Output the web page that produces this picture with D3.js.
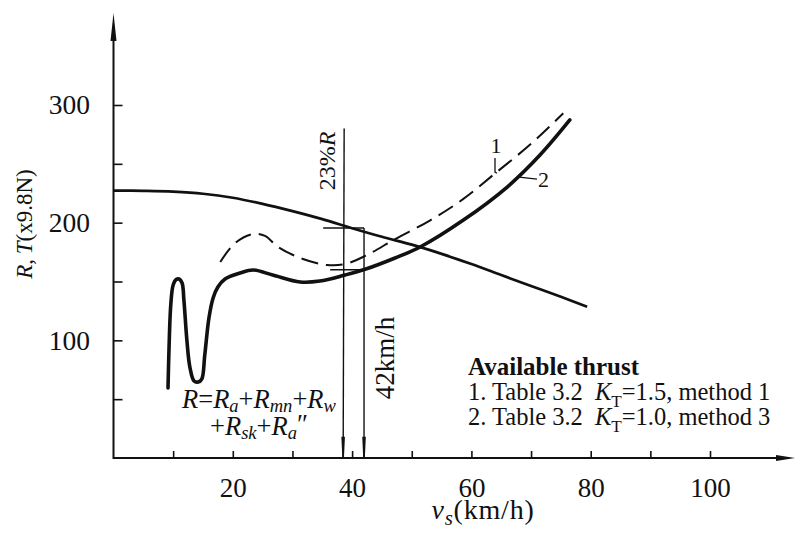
<!DOCTYPE html>
<html>
<head>
<meta charset="utf-8">
<script src="https://cdn.jsdelivr.net/npm/d3@7"></script>
<style>
  html, body { margin: 0; padding: 0; background: #fff; }
  svg { display: block; font-family: "Liberation Serif", "Times New Roman", serif; }
</style>
</head>
<body>
<svg id="chart" width="796" height="538"></svg>
<script>
// Available thrust T (x9.8 N) against speed (km/h)
const thrustSpeed = [0, 5, 10, 15, 20, 25, 30, 35, 40, 45, 50, 55, 60, 65, 70, 75, 79.4];
const thrustValue = [227.3, 227, 226.3, 224.6, 221.2, 216, 209.8, 203, 195.3, 188, 181.3, 173.5, 164.8, 155.5, 146.2, 137, 128.5];

// Resistance curve 1 (dashed)
const r1Speed = [17.9, 20.4, 23.4, 25.4, 27.6, 31.3, 35.8, 38.8, 42.3, 47.2, 53.1, 58.6, 64, 70, 75.4];
const r1Value = [166.6, 182.7, 190.4, 188.7, 179.3, 170, 164, 164.8, 172, 186, 202, 220, 242, 267, 293];

// Resistance curve 2 (solid, heavy)
const r2Speed = [9.14, 9.3, 9.6, 10.0, 10.5, 11.0, 11.5, 11.8, 12.3, 12.8, 13.5, 14.2, 14.8, 15.3, 16.0, 16.7, 17.5, 18.7, 21.2, 23.4, 26.7, 31.3, 34.6, 38.8, 42.3, 47.2, 51.4, 58.6, 66.0, 71.5, 76.5];
const r2Value = [59.5, 91.8, 130, 147, 151.7, 152.1, 148.7, 134.3, 100.3, 77.3, 65.4, 64.6, 67.1, 87.5, 119, 136, 145.3, 152.1, 157.2, 159.8, 155.5, 149.6, 150.4, 155.5, 160.6, 170, 179.3, 202, 230.3, 257.5, 287.3];

// Axis ticks
const xTicks = [10, 20, 30, 40, 50, 60, 70, 80, 90, 100];
const xTickLabels = [20, 40, 60, 80, 100];
const yTicks = [50, 100, 150, 200, 250, 300];
const yTickLabels = [100, 200, 300];

// Marked speeds: 23%R margin at 38.5 km/h and the 42 km/h speed
const markSpeeds = [38.5, 42];
const marginTop = 195.5;     // thrust level at the 23%R mark
const marginBottom = 160;    // resistance level at the 23%R mark

const svg = d3.select("#chart");
const W = 796, H = 538;
const INK = "#111";

const x = d3.scaleLinear().domain([0, 100]).range([113.5, 710]);
const y = d3.scaleLinear().domain([0, 300]).range([458, 105]);

svg.append("rect").attr("width", W).attr("height", H).attr("fill", "#fff");

// ---- axes ----
const yAxis = d3.axisLeft(y)
  .tickValues(yTicks)
  .tickSize(-9)
  .tickPadding(23.5)
  .tickFormat(d => yTickLabels.includes(d) ? d : "");
const gy = svg.append("g").attr("transform", `translate(${x(0)},0)`).call(yAxis);
gy.select(".domain").remove();
gy.selectAll(".tick line").attr("stroke", INK).attr("stroke-width", 1.6);
gy.selectAll(".tick text").attr("fill", INK).attr("font-size", 27.5)
  .attr("font-family", "Liberation Serif, serif");

const xAxis = d3.axisBottom(x)
  .tickValues(xTicks)
  .tickSize(-7)
  .tickPadding(20)
  .tickFormat(d => xTickLabels.includes(d) ? d : "");
const gx = svg.append("g").attr("transform", `translate(0,${y(0)})`).call(xAxis);
gx.select(".domain").remove();
gx.selectAll(".tick line").attr("stroke", INK).attr("stroke-width", 1.6);
gx.selectAll(".tick text").attr("fill", INK).attr("font-size", 27)
  .attr("font-family", "Liberation Serif, serif");

// axis lines with arrowheads
const x0 = x(0), y0 = y(0);
svg.append("line").attr("x1", x0).attr("x2", x0).attr("y1", y0 + 1).attr("y2", 30)
  .attr("stroke", INK).attr("stroke-width", 2);
svg.append("path").attr("d", `M${x0},13 L${x0 - 3},41 L${x0 + 3},41 Z`).attr("fill", INK);
svg.append("line").attr("x1", x0).attr("x2", 785).attr("y1", y0).attr("y2", y0)
  .attr("stroke", INK).attr("stroke-width", 2);
svg.append("path").attr("d", `M795,${y0} L776,${y0 - 3} L776,${y0 + 3} Z`).attr("fill", INK);

// ---- curves ----
const line = d3.line().x(d => x(d[0])).y(d => y(d[1])).curve(d3.curveCatmullRom.alpha(0.5));

svg.append("path").datum(d3.zip(thrustSpeed, thrustValue))
  .attr("d", line).attr("fill", "none").attr("stroke", INK).attr("stroke-width", 2.7);

svg.append("path").datum(d3.zip(r1Speed, r1Value))
  .attr("d", line).attr("fill", "none").attr("stroke", INK).attr("stroke-width", 2)
  .attr("stroke-dasharray", "17,8");

svg.append("path").datum(d3.zip(r2Speed, r2Value))
  .attr("d", line).attr("fill", "none").attr("stroke", INK).attr("stroke-width", 3.6)
  .attr("stroke-linecap", "round").attr("stroke-linejoin", "round");

// ---- speed marks ----
const ann = svg.append("g").attr("stroke", INK).attr("fill", "none");
// 23%R line
ann.append("line").attr("x1", x(markSpeeds[0]) + 1).attr("x2", x(markSpeeds[0]))
  .attr("y1", y(280)).attr("y2", y0).attr("stroke-width", 1.4);
// 42 km/h line
ann.append("line").attr("x1", x(markSpeeds[1])).attr("x2", x(markSpeeds[1]))
  .attr("y1", y(marginTop)).attr("y2", y0).attr("stroke-width", 1.4);
// horizontal marks
ann.append("line").attr("x1", x(markSpeeds[0]) - 20).attr("x2", x(markSpeeds[1]))
  .attr("y1", y(marginTop)).attr("y2", y(marginTop)).attr("stroke-width", 1.4);
ann.append("line").attr("x1", x(markSpeeds[0]) - 13).attr("x2", x(markSpeeds[1]))
  .attr("y1", y(marginBottom)).attr("y2", y(marginBottom)).attr("stroke-width", 1.4);
// arrow ends at the axis
markSpeeds.forEach(s => {
  svg.append("path")
    .attr("d", `M${x(s) - 1.8},${y(18)} L${x(s) + 1.8},${y(18)} L${x(s) + 0.8},${y0} L${x(s) - 0.8},${y0} Z`)
    .attr("fill", INK);
});

// ---- text helpers ----
// parts: {t, i: italic, sub: subscript, sup: prime mark, fs: subscript scale, dx}
function richText(g, parts, size, subShift = 0.28) {
  const t = g.append("text").attr("font-size", size).attr("fill", INK);
  let shift = 0;
  parts.forEach(p => {
    const ts = t.append("tspan").text(p.t);
    if (p.i) ts.attr("font-style", "italic");
    let target = 0, fs = size;
    if (p.sub) { target = size * subShift; fs = size * (p.fs || 0.7); }
    if (p.sup) { target = -size * 0.08; }
    ts.attr("font-size", fs);
    if (target !== shift) { ts.attr("dy", target - shift); shift = target; }
    if (p.dx) ts.attr("dx", p.dx);
  });
  return t;
}

// y title
richText(svg.append("g").attr("transform", "translate(32,224) rotate(-90)"),
  [{ t: "R", i: 1 }, { t: ",\u2009" }, { t: "T", i: 1 }, { t: "(x9.8N)" }], 23)
  .attr("text-anchor", "middle");

// x title
richText(svg.append("g").attr("transform", "translate(483,519)"),
  [{ t: "v", i: 1 }, { t: "s", i: 1, sub: 1, fs: 0.75 }, { t: "(km/h)" }], 28, 0.22)
  .attr("text-anchor", "middle").attr("letter-spacing", 0.8);

// mark labels
svg.append("text").attr("transform", `translate(335,161) rotate(-90)`)
  .attr("text-anchor", "middle").attr("font-size", 24).attr("fill", INK)
  .call(t => { t.append("tspan").text("23%"); t.append("tspan").attr("font-style", "italic").text("R"); });
svg.append("text").attr("transform", `translate(394,358) rotate(-90)`)
  .attr("text-anchor", "middle").attr("font-size", 27).attr("fill", INK).text("42km/h");

// resistance formula
richText(svg.append("g").attr("transform", "translate(182,408)"),
  [{ t: "R", i: 1 }, { t: "=" }, { t: "R", i: 1 }, { t: "a", i: 1, sub: 1 }, { t: "+" },
   { t: "R", i: 1 }, { t: "mn", i: 1, sub: 1 }, { t: "+" }, { t: "R", i: 1 }, { t: "w", i: 1, sub: 1 }], 26.5, 0.14);
richText(svg.append("g").attr("transform", "translate(210,435)"),
  [{ t: "+" }, { t: "R", i: 1 }, { t: "sk", i: 1, sub: 1 }, { t: "+" },
   { t: "R", i: 1 }, { t: "a", i: 1, sub: 1 }, { t: "\u2033", sup: 1 }], 26.5, 0.14);

// curve number labels with leaders
svg.append("text").attr("x", 496).attr("y", y(259)).attr("text-anchor", "middle")
  .attr("font-size", 22).attr("fill", INK).text("1");
svg.append("path").attr("d", `M${495},${y(255)} L${495},${y(243)} L${497},${y(242)}`)
  .attr("fill", "none").attr("stroke", INK).attr("stroke-width", 1.3);
svg.append("text").attr("x", 538).attr("y", y(230)).attr("font-size", 22).attr("fill", INK).text("2");
svg.append("line").attr("x1", 517).attr("y1", y(239)).attr("x2", 537).attr("y2", y(237))
  .attr("stroke", INK).attr("stroke-width", 1.3);

// legend
const lg = svg.append("g").attr("transform", "translate(468,0)");
lg.append("text").attr("y", 375).attr("font-size", 25).attr("font-weight", "bold")
  .attr("fill", INK).text("Available thrust");
richText(lg.append("g").attr("transform", "translate(0,400)"),
  [{ t: "1. Table 3.2" }, { t: "K", i: 1, dx: 12 }, { t: "T", sub: 1 }, { t: "=1.5, method 1" }], 24.5);
richText(lg.append("g").attr("transform", "translate(0,425)"),
  [{ t: "2. Table 3.2" }, { t: "K", i: 1, dx: 12 }, { t: "T", sub: 1 }, { t: "=1.0, method 3" }], 24.5);
</script>
</body>
</html>
